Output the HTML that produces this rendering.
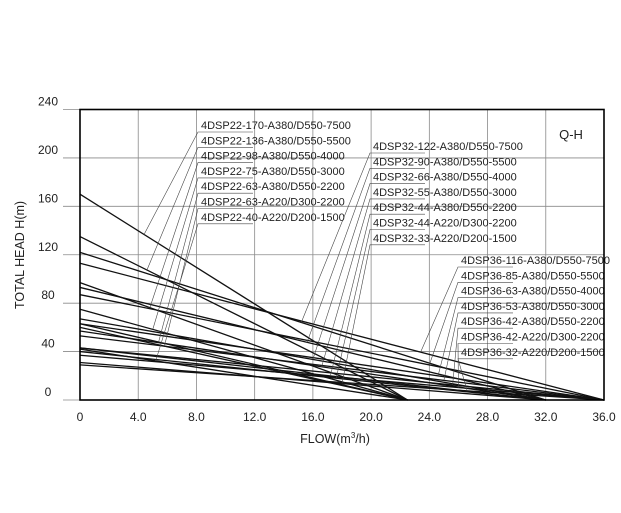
<!DOCTYPE html>
<html><head><meta charset="utf-8">
<style>
html,body{margin:0;padding:0;background:#fff;}
svg{display:block;font-family:"Liberation Sans",sans-serif;}
</style></head>
<body>
<svg id="chart" width="621" height="513" viewBox="0 0 621 513" xmlns="http://www.w3.org/2000/svg">
<g id="grid"></g>
<g id="curves"></g>
<g id="labels"></g>
<rect x="80" y="109.5" width="524" height="290.5" fill="none" stroke="#000" stroke-width="1.6"/>
<g id="ticks" font-size="12" fill="#222"></g>
<text x="571" y="139" font-size="13" text-anchor="middle" fill="#222">Q-H</text>
<text transform="translate(24,255) rotate(-90)" font-size="12.5" text-anchor="middle" fill="#222">TOTAL HEAD H(m)</text>
<text x="335" y="443" font-size="12.5" text-anchor="middle" fill="#222">FLOW(m<tspan font-size="8" dy="-5">3</tspan><tspan dy="5">/h)</tspan></text>
</svg>
<script>
const xTicks=[0,4,8,12,16,20,24,28,32,36];
const xTickLabels=["0","4.0","8.0","12.0","16.0","20.0","24.0","28.0","32.0","36.0"];
const yTicks=[0,40,80,120,160,200,240];
const yTickLabels=["0","40","80","120","160","200","240"];
const names22=["4DSP22-170-A380/D550-7500","4DSP22-136-A380/D550-5500","4DSP22-98-A380/D550-4000","4DSP22-75-A380/D550-3000","4DSP22-63-A380/D550-2200","4DSP22-63-A220/D300-2200","4DSP22-40-A220/D200-1500"];
const head22=[170,135,97,75,63,60,42];
const max22=[22.5,22.5,22.5,22.5,22.5,22.5,22.5];
const names32=["4DSP32-122-A380/D550-7500","4DSP32-90-A380/D550-5500","4DSP32-66-A380/D550-4000","4DSP32-55-A380/D550-3000","4DSP32-44-A380/D550-2200","4DSP32-44-A220/D300-2200","4DSP32-33-A220/D200-1500"];
const head32=[122,93,67,57,43,40,31];
const max32=[32,32,32,32,32,32,32];
const names36=["4DSP36-116-A380/D550-7500","4DSP36-85-A380/D550-5500","4DSP36-63-A380/D550-4000","4DSP36-53-A380/D550-3000","4DSP36-42-A380/D550-2200","4DSP36-42-A220/D300-2200","4DSP36-32-A220/D200-1500"];
const head36=[113,87,63,53,43,37,29];
const max36=[36,36,36,36,36,36,36];

const X0=80,X1=604,Y0=400,Y1=109.5;
const xs=v=>X0+(X1-X0)*v/36;
const ys=v=>Y0-(Y0-Y1)*v/240;
const NS="http://www.w3.org/2000/svg";
function mk(tag,parent,attrs){const e=document.createElementNS(NS,tag);for(const k in attrs)e.setAttribute(k,attrs[k]);parent.appendChild(e);return e;}
const grid=document.getElementById('grid'),curves=document.getElementById('curves'),labels=document.getElementById('labels'),ticks=document.getElementById('ticks');

xTicks.forEach((t,i)=>{
  const l=mk('line',grid,{x1:xs(t),x2:xs(t),y1:Y1,y2:Y0,stroke:'#8a8a8a','stroke-width':0.8});
  
  
  const tx=mk('text',ticks,{x:xs(t),y:421,'text-anchor':'middle'});
  
  
  tx.textContent=xTickLabels[i];
});
yTicks.forEach((t,i)=>{
  const l=mk('line',grid,{x1:63,x2:X1,y1:ys(t),y2:ys(t),stroke:'#8a8a8a','stroke-width':0.8});
  
  
  const tx=mk('text',ticks,{x:48,y:ys(t)-4,'text-anchor':'middle'});
  
  
  tx.textContent=yTickLabels[i];
});

function series(names,heads,maxs,lx,ly0,targets){
  names.forEach((n,i)=>{
    const c=mk('line',curves,{x1:xs(0),y1:ys(heads[i]),x2:xs(maxs[i]),y2:ys(0),stroke:'#111','stroke-width':1.3});
    
    
    const ly=ly0+i*15.3;
    const t=mk('text',labels,{x:lx,y:ly,'font-size':11,fill:'#222'});
    
    
    t.textContent=n;
    const f=targets[i];
    const h=heads[i]*(1-f/maxs[i]);
    const u=mk('polyline',labels,{points:`${lx+52},${ly+3} ${lx-3},${ly+3} ${xs(f)},${ys(h)}`,fill:'none',stroke:'#444','stroke-width':0.6});
    
    
  });
}
series(names22,head22,max22,201,129,[4.4,4.6,4.8,5.0,5.4,5.8,5.2]);
series(names32,head32,max32,373,150,[15.2,15.6,16.0,16.6,17.2,17.6,18.0]);
series(names36,head36,max36,461,264,[23.4,24.0,24.6,25.0,25.6,26.0,26.6]);
</script>
</body></html>
